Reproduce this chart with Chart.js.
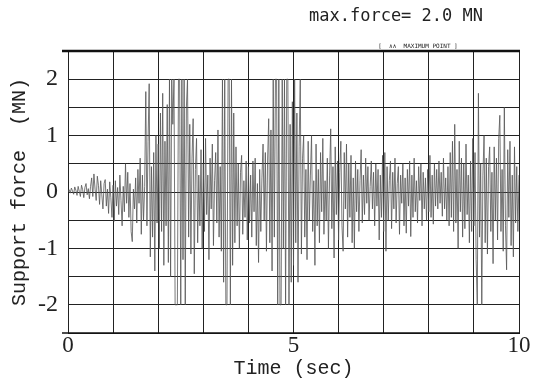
<!DOCTYPE html>
<html>
<head>
<meta charset="utf-8">
<script src="https://cdn.jsdelivr.net/npm/chart.js@4.4.1/dist/chart.umd.min.js"></script>
<style>
  body { margin: 0; background: #fff; }
  canvas { display: block; }
</style>
</head>
<body>
<canvas id="forceChart" width="533" height="383"></canvas>
<script>
// sample interval of the record (sec)
const timeStep = 0.025;

// support force (MN), one value per sample, 0 .. 10 sec
const force = [
  // 0.0 - 0.5
  0.00, 0.04, -0.02, 0.07, 0.02, -0.04, 0.09, 0.03, -0.06, 0.10, 0.01, -0.08, 0.12, 0.04, -0.10, 0.08, 0.15, -0.05, 0.06, -0.12,
  // 0.5 - 1.0
  0.10, 0.25, -0.08, 0.32, 0.05, -0.15, 0.28, 0.12, -0.22, 0.20, -0.05, -0.30, 0.15, 0.22, -0.25, 0.05, -0.38, 0.18, -0.10, -0.45,
  // 1.0 - 1.5
  0.12, -0.52, 0.20, -0.25, 0.08, -0.40, 0.30, -0.15, -0.60, 0.10, -0.35, 0.50, -0.20, 0.35, -0.45, 0.15, -0.70, -0.88, 0.05, -0.30,
  // 1.5 - 2.0
  0.25, -0.55, 0.40, -0.20, 0.60, -0.75, 0.30, -0.50, 0.10, 1.78, -0.60, 0.90, 1.92, -1.15, 0.45, -0.80, 0.70, -1.40, 1.00, -0.55,
  // 2.0 - 2.5
  0.85, -1.00, 1.40, -0.70, 1.75, -1.30, 0.90, -0.60, 1.55, -1.25, 2.00, -1.50, 2.00, 1.20, 2.00, -2.00, -2.00, -2.00, 2.00, 2.00,
  // 2.5 - 3.0
  -2.00, 2.00, -1.20, 2.00, -2.00, 1.50, 2.00, -0.80, 1.20, -1.10, 0.60, 1.30, -1.45, 0.40, 0.95, -0.90, 0.30, -0.60, 0.75, -1.00,
  // 3.0 - 3.5
  0.50, -0.70, 0.95, -0.40, 0.30, -1.20, 0.60, -0.30, 0.85, -0.95, 0.20, 0.70, -0.55, 1.10, -0.80, 0.45, -1.05, 2.00, -1.60, 2.00,
  // 3.5 - 4.0
  -2.00, -2.00, 2.00, 2.00, -2.00, 2.00, -1.30, 1.40, -0.90, 0.80, -0.60, 0.50, -1.00, 0.35, 0.65, -0.75, 0.20, -0.45, 0.55, -0.85,
  // 4.0 - 4.5
  0.45, -0.55, 0.30, -0.80, 0.55, -0.35, 0.60, -0.95, 0.15, -1.25, 0.40, -0.70, 0.25, 0.85, -0.50, 0.70, -1.05, 0.55, 1.30, -0.90,
  // 4.5 - 5.0
  1.10, -1.40, 2.00, -0.80, 2.00, 2.00, -2.00, 2.00, -2.00, -2.00, 2.00, -1.00, 2.00, -2.00, 2.00, 2.00, -2.00, 1.20, -1.60, 1.60,
  // 5.0 - 5.5
  -1.30, 2.00, -0.90, 1.40, -1.60, 0.80, 2.00, -1.10, 0.60, 1.00, -0.80, 0.40, -1.20, 0.90, -0.50, 0.30, 1.00, -0.70, 0.20, -1.30,
  // 5.5 - 6.0
  0.85, -0.60, 0.40, -0.90, 0.70, -0.35, 0.95, -0.75, 0.20, -0.50, 0.60, -1.00, 0.30, 1.12, -0.65, 0.45, -1.17, 0.80, -0.40, 0.55,
  // 6.0 - 6.5
  -0.85, 0.35, 0.90, -0.60, -1.05, 0.70, -0.30, 0.85, -0.80, 0.50, -0.45, 0.65, -0.90, 0.25, -1.00, 0.55, -0.35, 0.40, -0.70, 0.20,
  // 6.5 - 7.0
  0.75, -0.55, 0.30, -0.40, 0.60, -0.20, 0.45, -0.50, 0.10, 0.55, -0.30, 0.35, -0.60, 0.50, -0.25, 0.40, -0.85, 0.30, -0.45, 0.65,
  // 7.0 - 7.5
  -0.70, 0.70, -1.05, 0.45, -0.50, 0.20, 0.55, -0.65, 0.35, -0.30, 0.60, -0.55, 0.15, 0.45, -0.75, 0.30, -0.20, 0.50, -0.60, 0.25,
  // 7.5 - 8.0
  -0.73, 0.40, -0.25, 0.55, -0.79, 0.30, -0.45, 0.60, -0.35, 0.20, -0.55, 0.45, -0.15, 0.50, -0.60, 0.35, -0.30, 0.25, -0.50, 0.40,
  // 8.0 - 8.5
  -0.35, 0.65, -0.45, 0.30, -0.57, 0.50, -0.25, 0.40, -0.30, 0.55, -0.20, 0.35, -0.43, 0.60, -0.30, 0.25, -0.50, 0.45, -0.60, 0.70,
  // 8.5 - 9.0
  -0.45, 0.90, -0.70, 1.20, -0.55, 0.40, -1.00, 0.90, -0.35, 0.60, -0.80, 0.50, -0.65, 0.85, -0.40, 0.30, -0.90, 0.55, -0.70, 0.95,
  // 9.0 - 9.5
  -0.60, 0.70, -1.20, -2.00, 1.75, -0.80, 0.50, -2.00, 0.30, 1.00, -0.90, 0.60, -1.10, 0.45, 0.80, -0.70, 0.35, -1.27, 0.80, -0.50,
  // 9.5 - 10.0
  0.60, -0.85, 0.95, 1.36, -0.70, 0.40, -1.05, 1.50, -0.60, -1.38, 0.75, -0.45, 0.90, -0.95, 0.30, -1.15, 0.80, -0.55, 0.45, -0.70,
  0.30
];

// axis labels that carry text (others are grid only)
const xTickLabels = [0, 5, 10];
const yTickLabels = [-2, -1, 0, 1, 2];

const titleText = 'max.force= 2.0 MN';
const markerText = '[  \u2227\u2227  MAXIMUM POINT ]';

const points = force.map((v, i) => ({ x: +(i * timeStep).toFixed(3), y: v }));

// frame + header text
const framePlugin = {
  id: 'frame',
  afterDraw(chart) {
    const { ctx, chartArea: a } = chart;
    ctx.save();
    ctx.strokeStyle = '#111';
    ctx.lineWidth = 2.5;
    ctx.beginPath();
    ctx.moveTo(a.left - 6, a.top);
    ctx.lineTo(a.right + 1, a.top);
    ctx.stroke();
    ctx.lineWidth = 1.5;
    ctx.beginPath();
    ctx.moveTo(a.left - 6, a.bottom);
    ctx.lineTo(a.right + 1, a.bottom);
    ctx.stroke();

    ctx.fillStyle = '#222';
    ctx.textBaseline = 'middle';
    ctx.textAlign = 'center';
    ctx.font = '17px "DejaVu Sans Mono"';
    ctx.fillText(titleText, 396, 17);
    ctx.font = '6px "DejaVu Sans Mono"';
    ctx.fillText(markerText, 418, 46);
    ctx.restore();
  }
};

const ctx = document.getElementById('forceChart').getContext('2d');

new Chart(ctx, {
  type: 'line',
  data: {
    datasets: [{
      data: points,
      borderColor: '#555',
      borderWidth: 0.8,
      pointRadius: 0,
      tension: 0,
      fill: false
    }]
  },
  options: {
    responsive: false,
    animation: false,
    events: [],
    layout: { padding: { top: 51, right: 14, left: 0, bottom: 0 } },
    plugins: {
      legend: { display: false },
      tooltip: { enabled: false }
    },
    scales: {
      x: {
        type: 'linear',
        min: 0,
        max: 10,
        afterFit(scale) { scale.height = 50; },
        ticks: {
          stepSize: 1,
          autoSkip: false,
          maxRotation: 0,
          padding: 1,
          color: '#222',
          font: { family: '"Liberation Serif"', size: 23, lineHeight: 1 },
          callback: v => (xTickLabels.includes(v) ? String(v) : '')
        },
        grid: { color: '#222', lineWidth: 1, drawTicks: false },
        border: { color: '#222', width: 1 },
        title: {
          display: true,
          text: 'Time (sec)',
          color: '#222',
          padding: { top: 0, bottom: 2 },
          font: { family: '"Liberation Mono"', size: 20 }
        }
      },
      y: {
        min: -2.5,
        max: 2.5,
        afterFit(scale) { scale.width = 68; },
        ticks: {
          stepSize: 0.5,
          autoSkip: false,
          padding: 10,
          color: '#222',
          font: { family: '"Liberation Serif"', size: 24 },
          callback: v => (yTickLabels.includes(v) ? String(v) : '')
        },
        grid: { color: '#222', lineWidth: 1, drawTicks: false },
        border: { color: '#222', width: 1 },
        title: {
          display: true,
          text: 'Support force  (MN)',
          color: '#222',
          padding: { top: 8, bottom: 0 },
          font: { family: '"Liberation Mono"', size: 20 }
        }
      }
    }
  },
  plugins: [framePlugin]
});
</script>
</body>
</html>
